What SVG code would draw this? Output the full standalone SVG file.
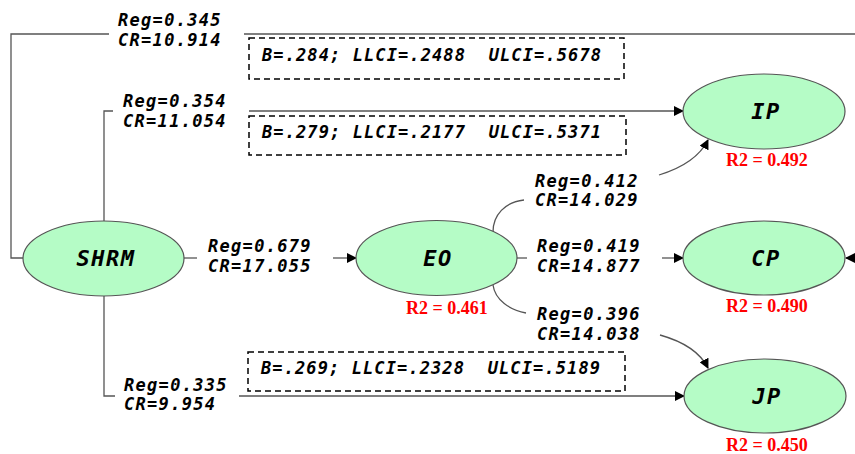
<svg xmlns="http://www.w3.org/2000/svg" width="855" height="454" viewBox="0 0 855 454">
<defs>
<marker id="arr" markerWidth="10" markerHeight="10" refX="9" refY="5" orient="auto" markerUnits="userSpaceOnUse">
<path d="M0,0 L10,5 L0,10 Z" fill="#000"/>
</marker>
<style>
.conn{fill:none;stroke:#555;stroke-width:1.3}
.node ellipse{fill:#b5fcc6;stroke:#555;stroke-width:1.2}
.nl{font-family:"DejaVu Sans Mono","Liberation Mono",monospace;font-weight:bold;font-style:italic;font-size:22px;letter-spacing:1.5px;text-anchor:middle;fill:#000}
.lab{font-family:"DejaVu Sans Mono","Liberation Mono",monospace;font-weight:bold;font-style:italic;font-size:17px;letter-spacing:1.3px;fill:#000;white-space:pre}
.bt{letter-spacing:1.1px}
.r2{font-family:"Liberation Serif","Times New Roman",serif;font-weight:bold;font-size:18px;fill:#ff0000;text-anchor:middle}
.box{fill:none;stroke:#000;stroke-width:1.5;stroke-dasharray:6,4}
</style>
</defs>
<rect width="855" height="454" fill="#fff"/>
<g id="connectors">
<path class="conn" d="M23,258 H11 V34 H109"/>
<path class="conn" d="M244,34 H875 V258 H846" marker-end="url(#arr)"/>
<path class="conn" d="M104,221 V111 H113"/>
<path class="conn" d="M249,111 H683" marker-end="url(#arr)"/>
<path class="conn" d="M104,296 V396 H115"/>
<path class="conn" d="M239,396 H684" marker-end="url(#arr)"/>
<path class="conn" d="M184,258 H197"/>
<path class="conn" d="M333,258 H356" marker-end="url(#arr)"/>
<path class="conn" d="M517,258 H527"/>
<path class="conn" d="M662,258 H683" marker-end="url(#arr)"/>
<path class="conn" d="M493,232 C493,215 505,202 524,200"/>
<path class="conn" d="M659,175 C685,167 700,156 708,140" marker-end="url(#arr)"/>
<path class="conn" d="M493,285 C495,300 510,310 526,313"/>
<path class="conn" d="M660,335 C685,342 700,352 708,368" marker-end="url(#arr)"/>
<rect class="box" x="249" y="38" width="375" height="41"/>
<rect class="box" x="249" y="116" width="377" height="39"/>
<rect class="box" x="248" y="352" width="377" height="39"/>
<text class="lab bt" x="262" y="61" xml:space="preserve">B=.284; LLCI=.2488  ULCI=.5678</text>
<text class="lab bt" x="262" y="138" xml:space="preserve">B=.279; LLCI=.2177  ULCI=.5371</text>
<text class="lab bt" x="261" y="374" xml:space="preserve">B=.269; LLCI=.2328  ULCI=.5189</text>
<text class="lab" x="118" y="26">Reg=0.345</text>
<text class="lab" x="118" y="46">CR=10.914</text>
<text class="lab" x="123" y="107">Reg=0.354</text>
<text class="lab" x="123" y="127">CR=11.054</text>
<text class="lab" x="208" y="252">Reg=0.679</text>
<text class="lab" x="208" y="272">CR=17.055</text>
<text class="lab" x="535" y="187">Reg=0.412</text>
<text class="lab" x="535" y="206">CR=14.029</text>
<text class="lab" x="537" y="252">Reg=0.419</text>
<text class="lab" x="537" y="272">CR=14.877</text>
<text class="lab" x="537" y="320">Reg=0.396</text>
<text class="lab" x="537" y="340">CR=14.038</text>
<text class="lab" x="124" y="391">Reg=0.335</text>
<text class="lab" x="124" y="410">CR=9.954</text>
</g>
<g id="SHRM" class="node">
<ellipse cx="103.5" cy="258.5" rx="80.5" ry="37.5"/>
<text class="nl" x="106" y="266">SHRM</text>
</g>
<g id="EO" class="node">
<ellipse cx="436.5" cy="258" rx="80.5" ry="37.5"/>
<text class="nl" x="438" y="266">EO</text>
<text class="r2" x="447" y="314">R2 = 0.461</text>
</g>
<g id="IP" class="node">
<ellipse cx="764" cy="111.5" rx="81" ry="37.5"/>
<text class="nl" x="766" y="119">IP</text>
<text class="r2" x="767" y="166">R2 = 0.492</text>
</g>
<g id="CP" class="node">
<ellipse cx="764" cy="258" rx="81" ry="37"/>
<text class="nl" x="766" y="266">CP</text>
<text class="r2" x="767" y="312">R2 = 0.490</text>
</g>
<g id="JP" class="node">
<ellipse cx="765" cy="396" rx="81" ry="37"/>
<text class="nl" x="767" y="404">JP</text>
<text class="r2" x="767" y="451">R2 = 0.450</text>
</g>
</svg>
